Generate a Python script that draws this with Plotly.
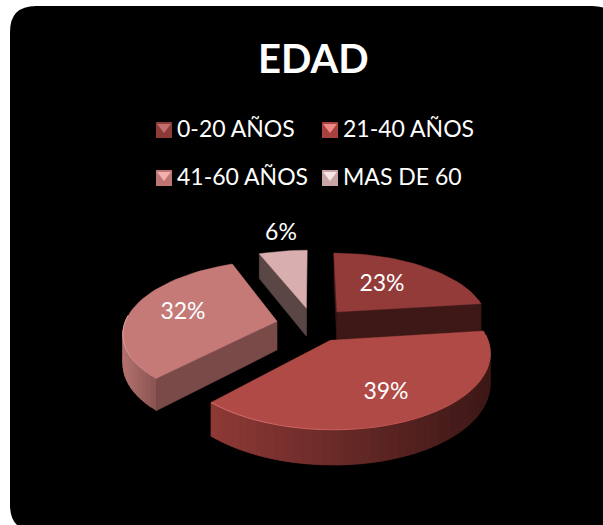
import math
import plotly.graph_objects as go

# ---- data ----
categories = ["0-20 AÑOS", "21-40 AÑOS", "41-60 AÑOS", "MAS DE 60"]
values = [23, 39, 32, 6]
title_text = "EDAD"

# ---- styles ----
top_colors = ["#933b39", "#b04a46", "#c57a78", "#d9aeae"]
edge_colors = ["#3d1816", "#3d1816", "#7a4a48", "#5a4644"]
wall_left = ["#6b2a28", "#8f3a37", "#b5736f", "#8a6a68"]
wall_right = ["#3d1816", "#3d1816", "#8c5654", "#5a4644"]
rim_colors = ["#a04543", "#d8736f", "#e0a09d", "#e6c6c6"]
legend_base = ["#8c3a38", "#a8423f", "#bd7472", "#c9a5a5"]
legend_tip = ["#c07070", "#ee8a86", "#f0b0ae", "#f7e6e6"]

# ---- projection of the tilted pie ----
CX, CY = 313, 324.5
FX, FY, PERSP = 152.6, 71, 0.148
EXPLODE = 0.242
DEPTH = 29


def project(u, v, drop=0.0):
    s = 1 / (1 + PERSP * v)
    return CX + FX * u * s, CY - FY * v * s + drop * s


def hex_mix(a, b, t):
    ca = [int(a[i:i + 2], 16) for i in (1, 3, 5)]
    cb = [int(b[i:i + 2], 16) for i in (1, 3, 5)]
    return "rgb(%d,%d,%d)" % tuple(round(x + (y - x) * t) for x, y in zip(ca, cb))


total = sum(values)
spans = []
acc = 0.0
for val in values:
    start = acc / total * 2 * math.pi
    acc += val
    spans.append((start, acc / total * 2 * math.pi))


def poly(xs, ys, color):
    return go.Scatter(x=xs, y=ys, mode="lines", fill="toself", fillcolor=color,
                      line=dict(color=color, width=0.4), hoverinfo="skip", showlegend=False)


def slice_traces(i):
    a0, a1 = spans[i]
    mid = (a0 + a1) / 2
    ou, ov = EXPLODE * math.sin(mid), EXPLODE * math.cos(mid)
    steps = max(8, int((a1 - a0) / math.radians(3)))
    angs = [a0 + (a1 - a0) * k / steps for k in range(steps + 1)]
    rim = [(ou + math.sin(a), ov + math.cos(a)) for a in angs]
    front = [j for j in range(steps + 1) if math.cos(angs[j]) <= 0.12]
    out = []
    # radial walls
    for a in (a0, a1):
        p = (ou + math.sin(a), ov + math.cos(a))
        q0, q1, q2, q3 = project(ou, ov), project(*p), project(*p, DEPTH), project(ou, ov, DEPTH)
        out.append(poly([q0[0], q1[0], q2[0], q3[0], q0[0]],
                        [q0[1], q1[1], q2[1], q3[1], q0[1]], edge_colors[i]))
    # outer wall shaded from left to right; each quad overlaps its neighbour to hide seams
    if front:
        xs_front = [project(*rim[j])[0] for j in front]
        lo, hi = min(xs_front), max(xs_front)
        for pos, j in enumerate(front):
            # paint in order of the rim, reaching two steps ahead
            far = front[min(pos + 2, len(front) - 1)]
            if far == j:
                continue
            a, b = project(*rim[j]), project(*rim[far])
            c, d = project(*rim[far], DEPTH), project(*rim[j], DEPTH)
            t = (a[0] - lo) / max(hi - lo, 1)
            out.append(poly([a[0], b[0], c[0], d[0], a[0]], [a[1], b[1], c[1], d[1], a[1]],
                            hex_mix(wall_left[i], wall_right[i], t)))
    # top face
    pts = [project(ou, ov)] + [project(u, v) for u, v in rim] + [project(ou, ov)]
    out.append(poly([p[0] for p in pts], [p[1] for p in pts], top_colors[i]))
    # light rim on the front edge, fading to the right
    if front:
        for j0, j1 in zip(front, front[1:]):
            a, b = project(*rim[j0]), project(*rim[j1])
            t = (a[0] - lo) / max(hi - lo, 1)
            out.append(go.Scatter(x=[a[0], b[0]], y=[a[1], b[1]], mode="lines",
                                  line=dict(color=hex_mix(rim_colors[i], top_colors[i], t), width=1),
                                  hoverinfo="skip", showlegend=False))
    return out


fig = go.Figure()
for idx in (3, 0, 2, 1):
    fig.add_traces(slice_traces(idx))

# ---- legend, drawn as markers and text ----
legend_x = [164, 330, 164, 330]
legend_y = [130, 130, 178, 178]
legend_text_x = [177, 343, 177, 343]
legend_text_y = [131, 131, 179, 179]
fig.add_trace(go.Scatter(x=legend_x, y=legend_y, mode="markers",
                         marker=dict(symbol="square", size=16, color=legend_base),
                         hoverinfo="skip", showlegend=False))
fig.add_trace(go.Scatter(x=legend_x, y=[y - 3 for y in legend_y], mode="markers",
                         marker=dict(symbol="triangle-down", size=12, color=legend_tip),
                         hoverinfo="skip", showlegend=False))
fig.add_trace(go.Scatter(x=legend_text_x, y=legend_text_y, mode="text",
                         text=categories, textposition="middle right",
                         textfont=dict(family="Lato", size=23, color="white"),
                         hoverinfo="skip", showlegend=False, cliponaxis=False))

# ---- percentage labels ----
label_x = [382, 386, 183, 281]
label_y = [285, 393, 313, 234]
fig.add_trace(go.Scatter(x=label_x, y=label_y, mode="text",
                         text=["%d%%" % v for v in values], textposition="middle center",
                         textfont=dict(family="Lato", size=23, color="white"),
                         hoverinfo="skip", showlegend=False))

# black rounded panel, cut by the right and bottom of the picture
L, T, Rr, B, r = 10, 6, 618, 531, 26
panel = (f"M {L + r} {T} L {Rr - r} {T} Q {Rr} {T} {Rr} {T + r} L {Rr} {B - r} "
         f"Q {Rr} {B} {Rr - r} {B} L {L + r} {B} Q {L} {B} {L} {B - r} L {L} {T + r} Q {L} {T} {L + r} {T} Z")
fig.update_layout(
    width=603, height=525, margin=dict(l=0, r=0, t=0, b=0),
    paper_bgcolor="white", plot_bgcolor="white", showlegend=False,
    xaxis=dict(range=[0, 603], visible=False, fixedrange=True),
    yaxis=dict(range=[525, 0], visible=False, fixedrange=True),
    shapes=[dict(type="path", path=panel, xref="x", yref="y", fillcolor="black",
                 line=dict(width=0), layer="below")],
    annotations=[dict(text="<b>%s</b>" % title_text, x=313, y=58, xref="x", yref="y", showarrow=False,
                      font=dict(family="Lato", size=40, color="white"))],
)
fig.write_html("out.html", config={"displayModeBar": False},
               post_script="document.body.style.margin='0';")
